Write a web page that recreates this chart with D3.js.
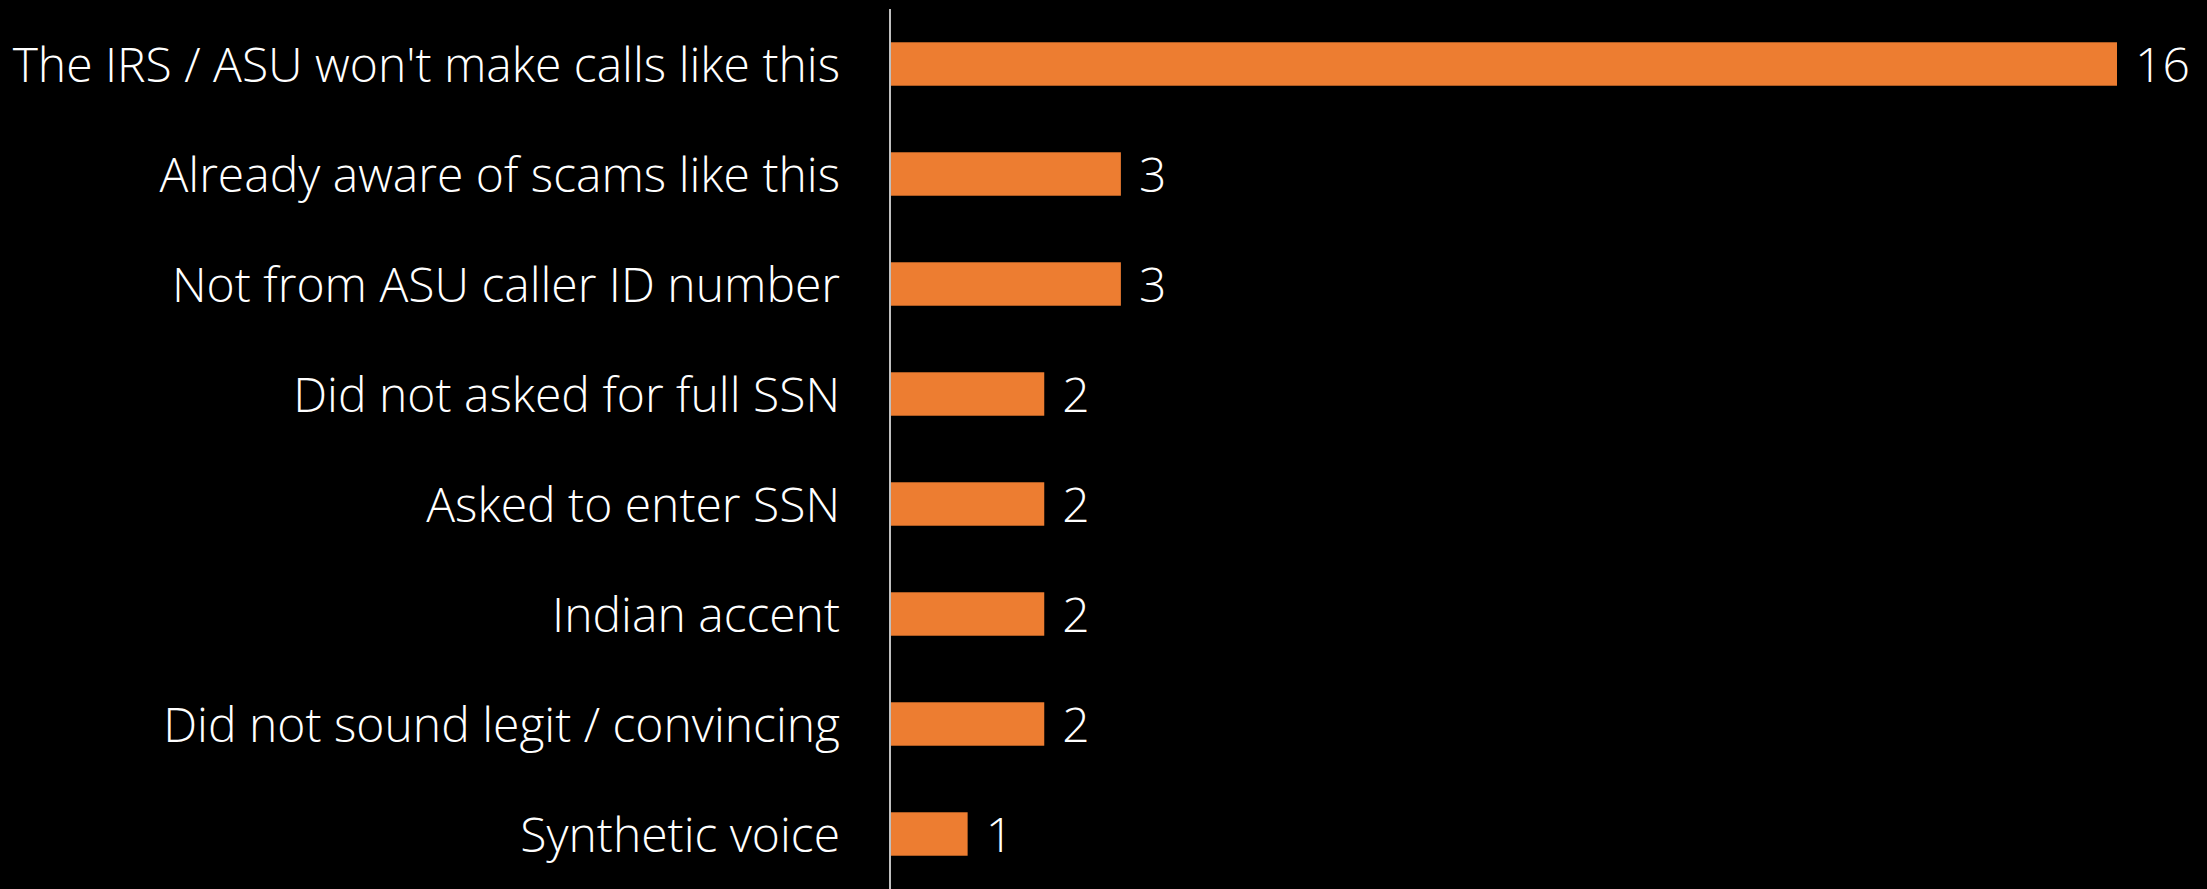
<!DOCTYPE html>
<html>
<head>
<meta charset="utf-8">
<script src="https://cdn.jsdelivr.net/npm/d3@7"></script>
<style>
  html, body { margin: 0; padding: 0; background: #000; }
  svg { display: block; }
</style>
</head>
<body>
<svg id="chart" width="2207" height="889"></svg>
<script>
// Reasons respondents gave for recognising the call as a scam
const categories = [
  "The IRS / ASU won't make calls like this",
  "Already aware of scams like this",
  "Not from ASU caller ID number",
  "Did not asked for full SSN",
  "Asked to enter SSN",
  "Indian accent",
  "Did not sound legit / convincing",
  "Synthetic voice"
];
const counts = [16, 3, 3, 2, 2, 2, 2, 1];

const width = 2207, height = 889;
const plotLeft = 891, plotTop = 9, plotBottom = 889;
const fontFamily = "'Open Sans', 'Noto Sans', sans-serif";
const fontSize = 48;

const svg = d3.select("#chart");
svg.append("rect").attr("width", width).attr("height", height).attr("fill", "#000");

const x = d3.scaleLinear().domain([0, 16]).range([plotLeft, 2117]);
const y = d3.scaleBand()
  .domain(categories)
  .range([plotTop, plotBottom])
  .paddingInner(0.605)
  .paddingOuter(0.3025);

const rows = categories.map((c, i) => ({ label: c, value: counts[i] }));

// bars
svg.append("g").selectAll("rect")
  .data(rows)
  .join("rect")
  .attr("x", x(0))
  .attr("y", d => y(d.label))
  .attr("width", d => x(d.value) - x(0))
  .attr("height", y.bandwidth())
  .attr("fill", "#ED7D31");

// category axis
const yAxis = d3.axisLeft(y).tickSize(0).tickPadding(50);
const gAxis = svg.append("g")
  .attr("transform", `translate(${plotLeft - 1},0)`)
  .call(yAxis);
gAxis.select(".domain")
  .attr("stroke", "#BFBFBF")
  .attr("stroke-width", 2)
  .attr("d", `M0,${plotTop}V${plotBottom}`);
gAxis.selectAll(".tick text")
  .attr("fill", "#fff")
  .attr("font-family", fontFamily)
  .attr("font-size", fontSize)
  .attr("font-weight", 300)
  .attr("dy", "0.375em");

// value labels
svg.append("g").selectAll("text")
  .data(rows)
  .join("text")
  .attr("x", d => x(d.value) + 18)
  .attr("y", d => y(d.label) + y.bandwidth() / 2)
  .attr("dy", "0.375em")
  .attr("fill", "#fff")
  .attr("font-family", fontFamily)
  .attr("font-size", fontSize)
  .attr("font-weight", 300)
  .text(d => d.value);
</script>
</body>
</html>
